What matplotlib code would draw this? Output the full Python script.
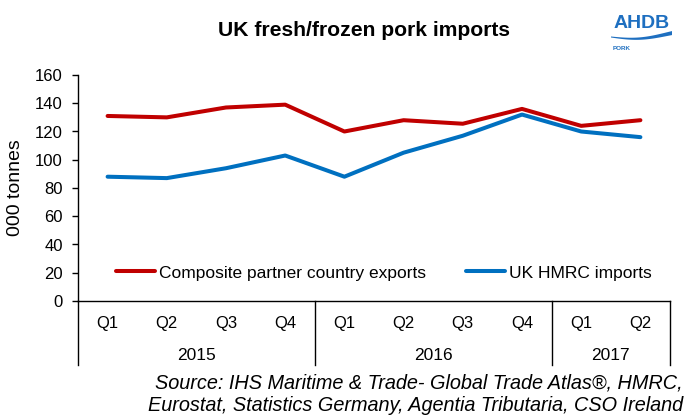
import matplotlib
matplotlib.use("Agg")
import matplotlib.pyplot as plt
import matplotlib.transforms as mtransforms
import numpy as np

plt.rcParams['font.family'] = ['Liberation Sans', 'DejaVu Sans']

quarters = ["Q1", "Q2", "Q3", "Q4", "Q1", "Q2", "Q3", "Q4", "Q1", "Q2"]
years = ["2015", "2016", "2017"]
quarters_per_year = [4, 4, 2]
partner_exports = [131, 130, 137, 139, 120, 128, 125.5, 136, 124, 128]
hmrc_imports = [88, 87, 94, 103, 88, 105, 117, 132, 120, 116]

RED = "#C00000"
BLUE = "#0070C0"
LOGO_BLUE = "#1E6FC0"

W, H = 687, 415
fig = plt.figure(figsize=(W / 100, H / 100), dpi=100)
ax = fig.add_axes([78 / W, (H - 301) / H, 592 / W, 226 / H])

x = np.arange(len(quarters))
lw = 2.9
ax.plot(x, partner_exports, color=RED, lw=lw, solid_capstyle="round",
        label="Composite partner country exports")
ax.plot(x, hmrc_imports, color=BLUE, lw=lw, solid_capstyle="round",
        label="UK HMRC imports")

ax.set_xlim(-0.5, len(quarters) - 0.5)
ax.set_ylim(0, 160)
ax.set_yticks(range(0, 161, 20))
ax.tick_params(axis="y", direction="out", length=4.5, width=1, labelsize=12, pad=6.5)
ax.set_xticks(x)
ax.set_xticklabels(quarters)
ax.tick_params(axis="x", length=0, labelsize=12, pad=11)
for s in ("top", "right"):
    ax.spines[s].set_visible(False)
for s in ("left", "bottom"):
    ax.spines[s].set_linewidth(1)
    ax.spines[s].set_color("black")

fig.text(16 / W, 1 - 188 / H, "000 tonnes", rotation=90, ha="center", va="center",
         fontsize=14)

# group separators and year labels below the axis
trans = mtransforms.blended_transform_factory(ax.transData, ax.transAxes)
drop = -(365 - 301) / 226
edges = np.concatenate([[0], np.cumsum(quarters_per_year)]) - 0.5
for e in edges:
    ax.plot([e, e], [0, drop], color="black", lw=1, transform=trans, clip_on=False)
for i, yr in enumerate(years):
    mid = (edges[i] + edges[i + 1]) / 2
    ax.text(mid, -(355 - 301) / 226, yr, transform=trans, ha="center", va="center",
            fontsize=12.5)

ax.legend(loc="center", bbox_to_anchor=((384 - 78) / 592, (301 - 273) / 226), ncol=2,
          frameon=False, fontsize=12.5, handlelength=2.25, columnspacing=2.3,
          handletextpad=0.25, borderaxespad=0)

fig.text(364 / W, 1 - 31 / H, "UK fresh/frozen pork imports", ha="center", va="center",
         fontsize=15.2, fontweight="bold")

fig.text(683 / W, 1 - 383 / H,
         "Source: IHS Maritime & Trade- Global Trade Atlas\u00ae, HMRC,",
         ha="right", va="center", fontsize=14.3, style="italic")
fig.text(683 / W, 1 - 405 / H,
         "Eurostat, Statistics Germany, Agentia Tributaria, CSO Ireland",
         ha="right", va="center", fontsize=14.3, style="italic")

# AHDB logo: wordmark, swoosh and sector name
fig.text(641.5 / W, 1 - 23.5 / H, "AHDB", ha="center", va="center", fontsize=14,
         fontweight="bold", color=LOGO_BLUE)
t = np.linspace(0, 1, 60)
wx = 611 + 61 * t
wy = 37 + 3 * np.sin(np.pi * t * 1.1) - 3 * t
half = 0.5 + 1.5 * t
fig.add_artist(plt.Polygon(
    np.column_stack([np.concatenate([wx, wx[::-1]]) / W,
                     1 - np.concatenate([wy - half, (wy + half)[::-1]]) / H]),
    closed=True, facecolor=LOGO_BLUE, edgecolor="none", transform=fig.transFigure))
fig.text(613 / W, 1 - 49 / H, "PORK", ha="left", va="center", fontsize=4.5,
         fontweight="bold", color=LOGO_BLUE)

fig.savefig("out.png", dpi=100)
